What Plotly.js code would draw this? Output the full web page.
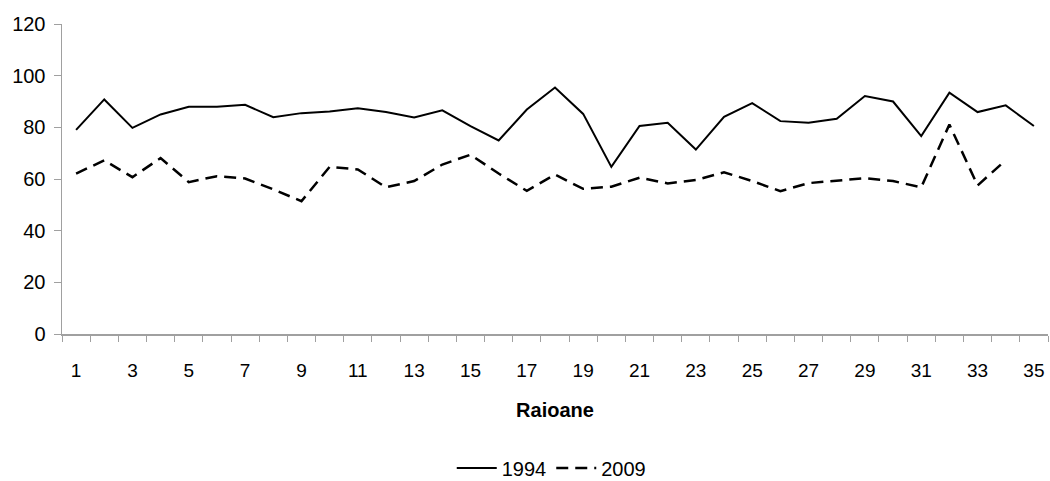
<!DOCTYPE html>
<html>
<head>
<meta charset="utf-8">
<script src="https://cdn.plot.ly/plotly-3.0.1.min.js"></script>
<style>html,body{margin:0;padding:0;background:#fff;}#chart{width:1050px;height:481px;}</style>
</head>
<body>
<div id="chart"></div>
<script>
const raioane = [1,2,3,4,5,6,7,8,9,10,11,12,13,14,15,16,17,18,19,20,21,22,23,24,25,26,27,28,29,30,31,32,33,34,35];
const values1994 = [79, 90.8, 79.8, 85, 88, 88, 88.7, 83.9, 85.5, 86.1, 87.4, 85.9, 83.8, 86.6, 80.5, 74.9, 86.9, 95.4, 85.2, 64.7, 80.5, 81.8, 71.4, 84.1, 89.4, 82.4, 81.8, 83.3, 92.1, 90.0, 76.6, 93.4, 85.9, 88.5, 80.5];
const values2009 = [62.1, 67.2, 60.7, 68.1, 58.8, 61.1, 60.2, 56, 51.4, 64.7, 63.7, 56.8, 59.2, 65.6, 69.4, 62.1, 55.4, 61.7, 56.2, 57, 60.5, 58.3, 59.6, 62.6, 59.2, 55.3, 58.4, 59.3, 60.3, 59.2, 56.8, 81.1, 57.5, 67.3, null];
const xTickLabels = ['1','3','5','7','9','11','13','15','17','19','21','23','25','27','29','31','33','35'];
const xTickVals = [1,3,5,7,9,11,13,15,17,19,21,23,25,27,29,31,33,35];
const yTickVals = [0,20,40,60,80,100,120];

const FONT = '"Liberation Sans", Arial, sans-serif';

const traces = [
  {x: raioane, y: values1994, name: '1994', type: 'scatter', mode: 'lines',
   line: {color: '#000', width: 2}},
  {x: raioane, y: values2009, name: '2009', type: 'scatter', mode: 'lines',
   line: {color: '#000', width: 2.5, dash: '12px,7px'}, connectgaps: false}
];

const layout = {
  width: 1050, height: 481,
  margin: {l: 62, r: 2, t: 24, b: 147},
  paper_bgcolor: '#fff', plot_bgcolor: '#fff',
  font: {family: FONT, size: 20, color: '#000'},
  showlegend: true,
  legend: {orientation: 'h', x: 0.525, xanchor: 'center', xref: 'container',
           y: 0.027, yanchor: 'middle', yref: 'container',
           font: {family: FONT, size: 20, color: '#000'}, itemwidth: 40, traceorder: 'normal'},
  xaxis: {
    automargin: false,
    range: [0.5, 35.5], tickvals: xTickVals, ticktext: xTickLabels,
    ticks: '', showgrid: false, zeroline: false,
    showline: true, linecolor: '#a0a0a0', linewidth: 1.5,
    tickfont: {family: FONT, size: 19, color: '#000'},
    ticklabelstandoff: 19,
    minor: {tick0: 0.5, dtick: 1, ticks: 'outside', ticklen: 6, tickcolor: '#a0a0a0', tickwidth: 1, showgrid: false},
    title: {text: 'Raioane', font: {family: FONT, size: 20, color: '#000', weight: 'bold'}, standoff: 22}
  },
  yaxis: {
    automargin: false,
    range: [0, 120], tickvals: yTickVals,
    ticks: 'outside', ticklen: 7, tickcolor: '#a0a0a0', tickwidth: 1,
    showgrid: false, zeroline: false,
    showline: true, linecolor: '#a0a0a0', linewidth: 1.5,
    tickfont: {family: FONT, size: 20, color: '#000'},
    ticklabelstandoff: 4
  }
};

Plotly.newPlot('chart', traces, layout, {displayModeBar: false, staticPlot: true});
</script>
</body>
</html>
